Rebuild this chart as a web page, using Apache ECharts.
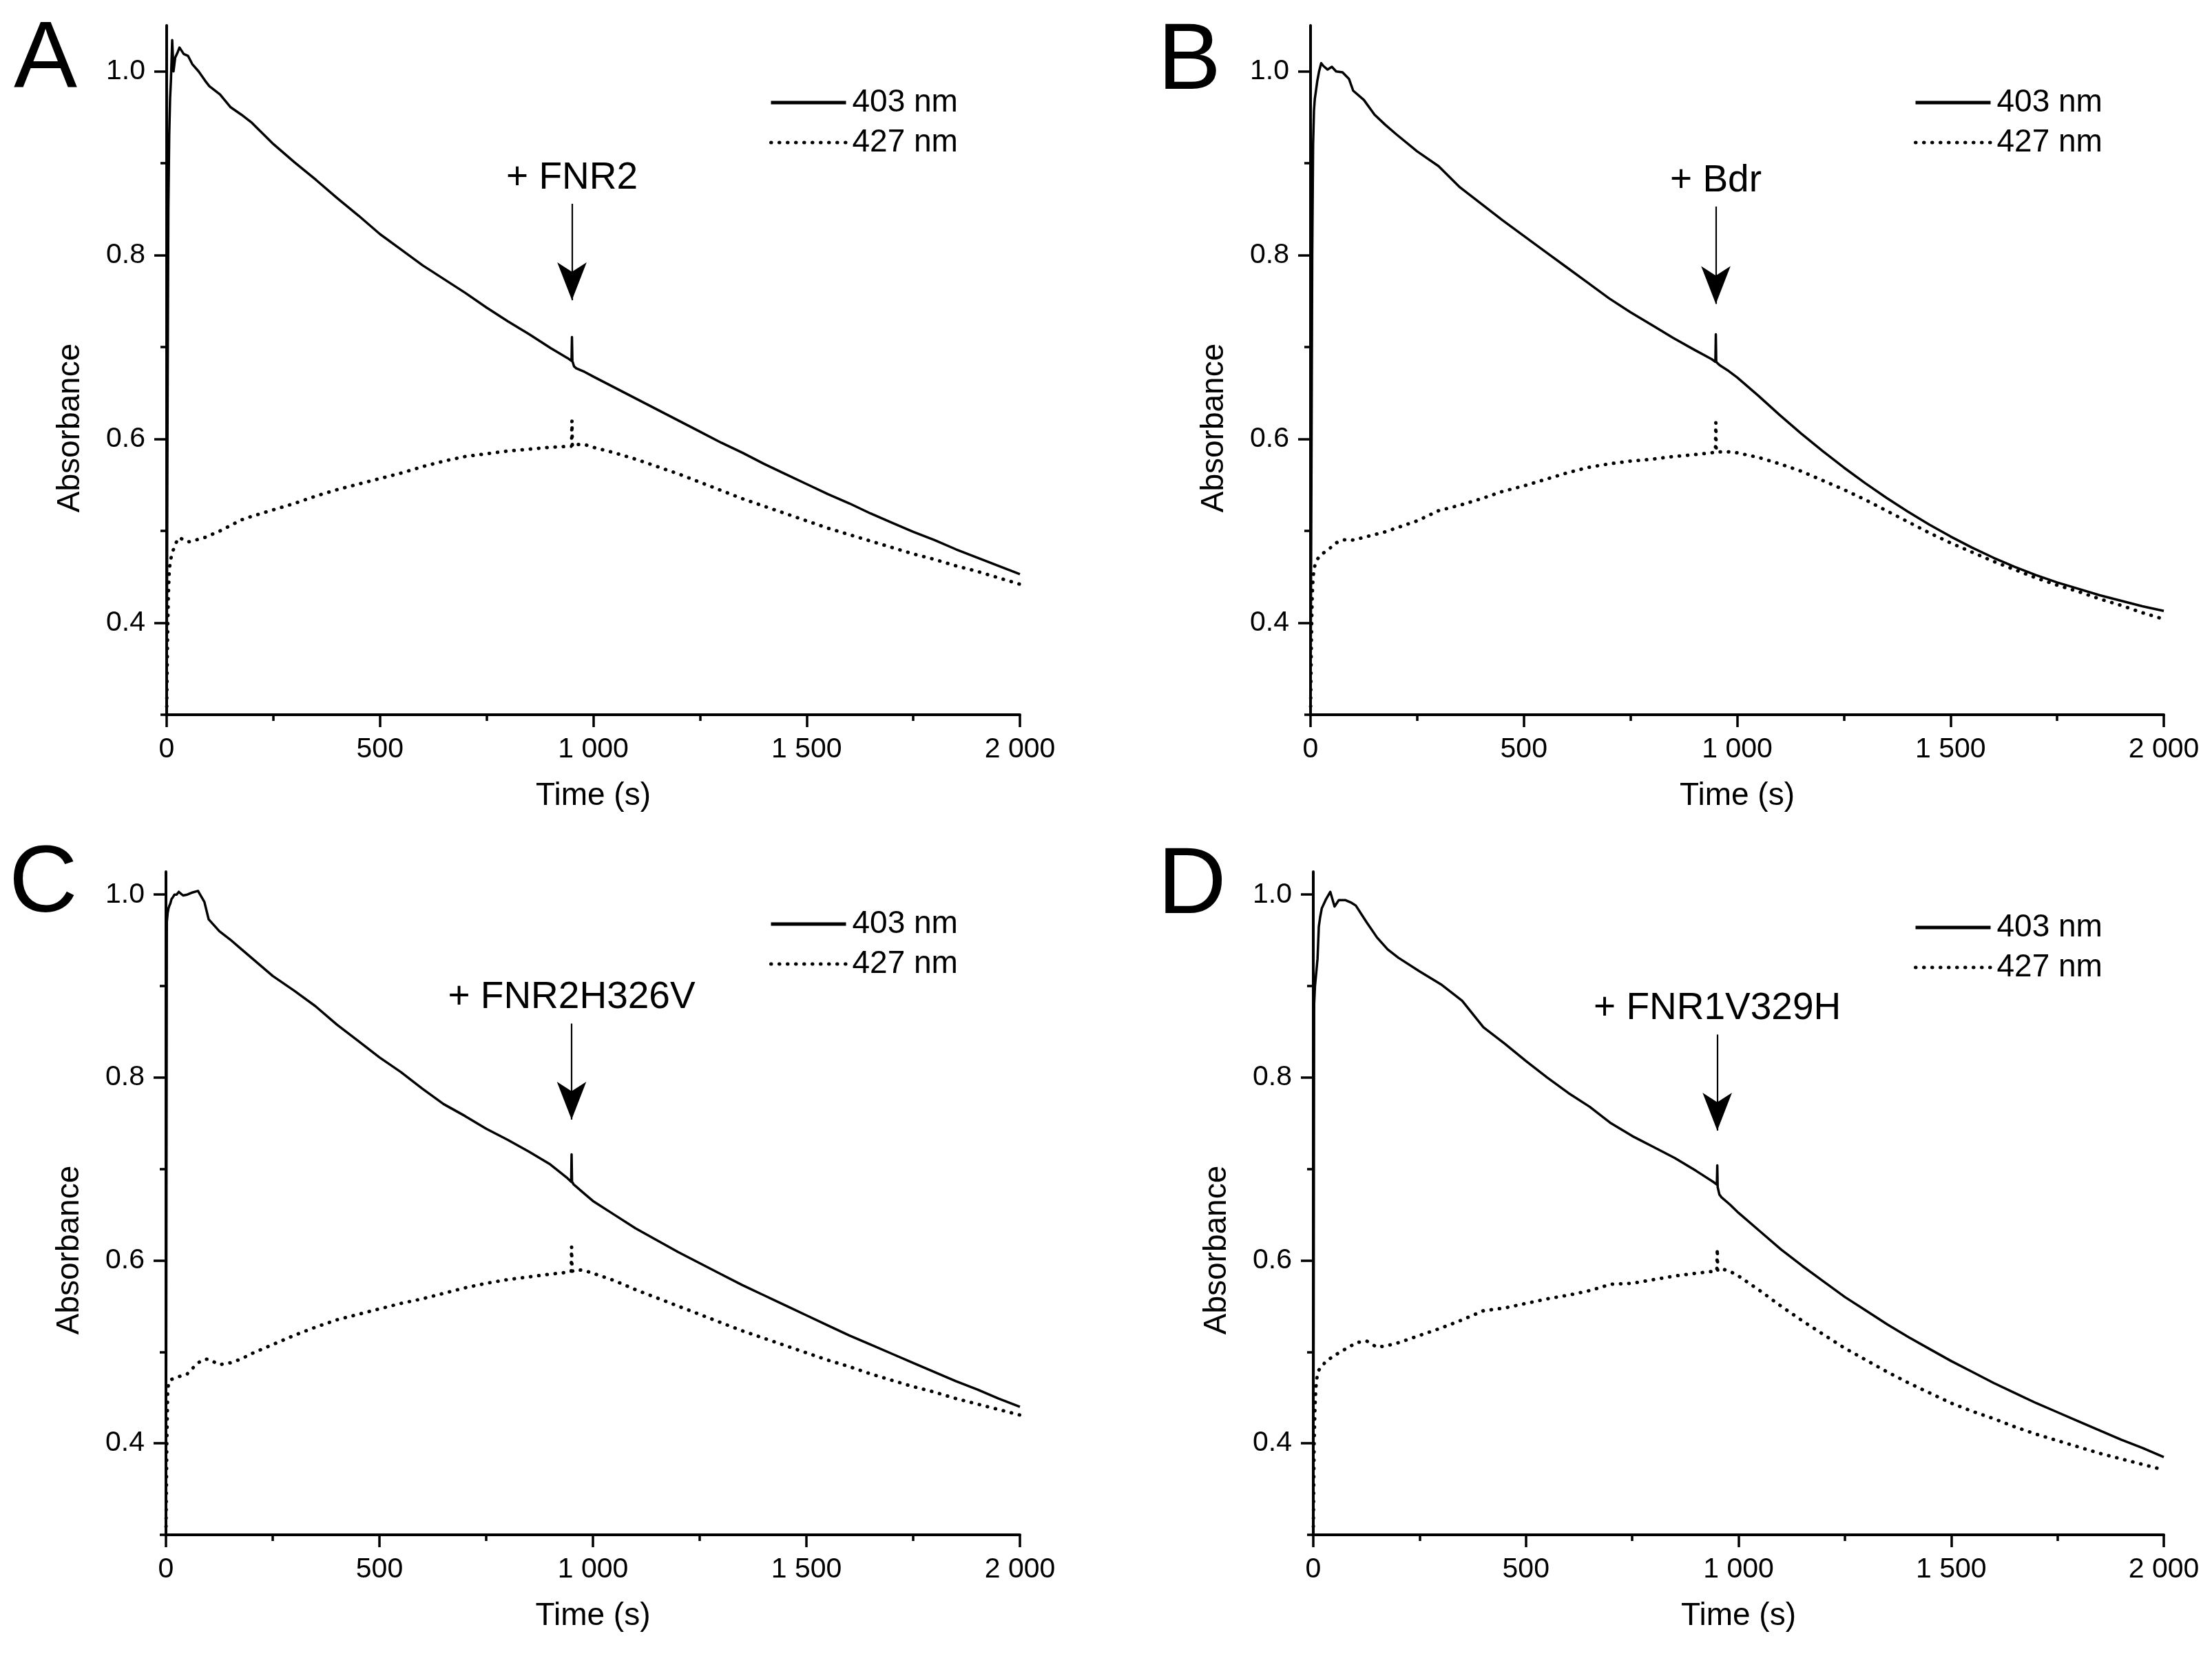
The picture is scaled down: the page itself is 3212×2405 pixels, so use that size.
<!DOCTYPE html>
<html>
<head>
<meta charset="utf-8">
<script src="https://cdn.jsdelivr.net/npm/echarts@6/dist/echarts.min.js"></script>
<style>
html,body{margin:0;padding:0;background:#fff;}
#chart{width:3212px;height:2405px;}
</style>
</head>
<body>
<div id="chart"></div>
<script>
// ---------- data ----------
const time = [0, 2, 4, 6, 8, 10, 13, 16, 20, 25, 30, 40, 50, 60, 75, 90, 100, 125, 150, 175, 200,
  250, 300, 350, 400, 450, 500, 550, 600, 650, 700, 750, 800, 850, 900, 940, 949, 950, 951, 955, 960, 980,
  1000, 1050, 1100, 1150, 1200, 1250, 1300, 1350, 1400, 1450, 1500, 1550, 1600, 1650, 1700, 1750, 1800,
  1850, 1900, 1950, 2000];

const a403 = [0.30, 0.62, 0.85, 0.93, 0.97, 0.99, 1.034, 1.00, 1.015, 1.02, 1.026, 1.019, 1.017, 1.008, 1.000, 0.990, 0.984, 0.975, 0.961, 0.953, 0.944,
  0.921, 0.901, 0.882, 0.862, 0.843, 0.823, 0.806, 0.789, 0.774, 0.759, 0.743, 0.728, 0.714, 0.699, 0.688, 0.685, 0.711, 0.685, 0.679, 0.677, 0.673,
  0.668, 0.656, 0.644, 0.632, 0.620, 0.608, 0.596, 0.585, 0.573, 0.562, 0.551, 0.540, 0.530, 0.519, 0.509, 0.499, 0.490,
  0.480, 0.471, 0.462, 0.453];
const a427 = [0.30, 0.38, 0.43, 0.455, 0.465, 0.47, 0.476, 0.48, 0.485, 0.49, 0.493, 0.49, 0.488, 0.489, 0.491, 0.493, 0.495, 0.500, 0.506, 0.512, 0.516,
  0.523, 0.530, 0.538, 0.545, 0.551, 0.557, 0.563, 0.570, 0.576, 0.581, 0.584, 0.587, 0.589, 0.591, 0.592, 0.592, 0.620, 0.592, 0.593, 0.594, 0.594,
  0.591, 0.585, 0.578, 0.570, 0.562, 0.553, 0.544, 0.535, 0.527, 0.519, 0.511, 0.503, 0.496, 0.489, 0.482, 0.475, 0.469,
  0.462, 0.456, 0.449, 0.442];

const b403 = [0.30, 0.55, 0.80, 0.92, 0.957, 0.97, 0.98, 0.99, 1.0, 1.009, 1.006, 1.002, 1.005, 1.0, 0.999, 0.992, 0.979, 0.969, 0.953, 0.942, 0.932,
  0.913, 0.897, 0.874, 0.856, 0.838, 0.821, 0.804, 0.787, 0.770, 0.753, 0.738, 0.724, 0.710, 0.697, 0.687, 0.684, 0.714, 0.684, 0.682, 0.680, 0.674,
  0.667, 0.647, 0.626, 0.606, 0.587, 0.569, 0.552, 0.536, 0.521, 0.507, 0.494, 0.482, 0.471, 0.461, 0.452, 0.444, 0.437,
  0.430, 0.424, 0.418, 0.413];
const b427 = [0.30, 0.38, 0.43, 0.45, 0.457, 0.462, 0.466, 0.469, 0.472, 0.474, 0.476, 0.479, 0.483, 0.487, 0.490, 0.491, 0.490, 0.493, 0.496, 0.499, 0.503,
  0.511, 0.522, 0.528, 0.535, 0.543, 0.549, 0.556, 0.563, 0.569, 0.573, 0.576, 0.578, 0.581, 0.583, 0.585, 0.586, 0.618, 0.586, 0.586, 0.586, 0.586,
  0.585, 0.580, 0.573, 0.565, 0.555, 0.545, 0.534, 0.522, 0.510, 0.498, 0.487, 0.477, 0.467, 0.458, 0.449, 0.441, 0.434,
  0.426, 0.419, 0.411, 0.404];

const c403 = [0.30, 0.97, 0.98, 0.985, 0.988, 0.99, 0.995, 0.997, 1.0, 1.0, 1.003, 0.999, 1.0, 1.002, 1.004, 0.992, 0.973, 0.960, 0.951, 0.941, 0.931,
  0.911, 0.895, 0.878, 0.858, 0.840, 0.822, 0.806, 0.788, 0.771, 0.758, 0.744, 0.732, 0.719, 0.705, 0.690, 0.686, 0.716, 0.686, 0.683, 0.681, 0.673,
  0.665, 0.650, 0.635, 0.622, 0.609, 0.597, 0.585, 0.573, 0.562, 0.551, 0.540, 0.529, 0.518, 0.508, 0.498, 0.488, 0.478,
  0.468, 0.459, 0.449, 0.440];
const c427 = [0.30, 0.40, 0.455, 0.466, 0.468, 0.469, 0.470, 0.471, 0.471, 0.472, 0.473, 0.474, 0.476, 0.481, 0.488, 0.492, 0.492, 0.486, 0.488, 0.492, 0.498,
  0.508, 0.518, 0.527, 0.535, 0.541, 0.547, 0.553, 0.558, 0.564, 0.570, 0.575, 0.579, 0.582, 0.585, 0.587, 0.588, 0.615, 0.588, 0.589, 0.590, 0.589,
  0.586, 0.578, 0.568, 0.559, 0.550, 0.541, 0.532, 0.523, 0.515, 0.507, 0.499, 0.491, 0.484, 0.476, 0.469, 0.462, 0.456,
  0.449, 0.443, 0.437, 0.431];

const d403 = [0.30, 0.88, 0.90, 0.91, 0.92, 0.93, 0.965, 0.975, 0.985, 0.99, 0.995, 1.003, 0.987, 0.994, 0.994, 0.991, 0.988, 0.970, 0.953, 0.940, 0.931,
  0.916, 0.902, 0.884, 0.855, 0.837, 0.818, 0.800, 0.783, 0.768, 0.750, 0.736, 0.724, 0.712, 0.698, 0.686, 0.683, 0.704, 0.680, 0.672, 0.669, 0.661,
  0.652, 0.632, 0.612, 0.594, 0.577, 0.560, 0.545, 0.530, 0.516, 0.503, 0.490, 0.478, 0.466, 0.455, 0.444, 0.434, 0.424,
  0.414, 0.404, 0.395, 0.385];
const d427 = [0.30, 0.40, 0.44, 0.46, 0.47, 0.475, 0.48, 0.482, 0.485, 0.487, 0.49, 0.493, 0.496, 0.499, 0.503, 0.507, 0.510, 0.512, 0.505, 0.507, 0.510,
  0.518, 0.526, 0.535, 0.545, 0.548, 0.553, 0.558, 0.562, 0.567, 0.574, 0.575, 0.579, 0.583, 0.586, 0.588, 0.589, 0.613, 0.589, 0.590, 0.591, 0.588,
  0.583, 0.567, 0.550, 0.534, 0.519, 0.504, 0.491, 0.478, 0.466, 0.455, 0.444, 0.435, 0.427, 0.418, 0.410, 0.403, 0.396,
  0.389, 0.383, 0.377, 0.371];

const panelLetters = ['A', 'B', 'C', 'D'];
const additionLabels = ['+ FNR2', '+ Bdr', '+ FNR2H326V', '+ FNR1V329H'];
const additionTime = 950;
const arrowStart = [0.856, 0.853, 0.859, 0.847];
const arrowTip = [0.751, 0.747, 0.754, 0.742];
const yMax = [1.05, 1.05, 1.025, 1.025];
const yMin = 0.3;
const xMajorTicks = [0, 500, 1000, 1500, 2000];
const xMinorTicks = [250, 750, 1250, 1750];
const yMajorTicks = [0.4, 0.6, 0.8, 1.0];
const yMinorTicks = [0.3, 0.5, 0.7, 0.9];
const legendNames = ['403 nm', '427 nm'];
const xTitle = 'Time (s)';
const yTitle = 'Absorbance';

// ---------- layout / styling ----------
const FONT = '"Liberation Sans", Arial, Helvetica, sans-serif';
const BLACK = '#000';
const series403 = [a403, b403, c403, d403];
const series427 = [a427, b427, c427, d427];

const grids = [
  {left: 242, top: 37, width: 1239, height: 1001},
  {left: 1903, top: 37, width: 1239, height: 1001},
  {left: 241, top: 1266, width: 1240, height: 963},
  {left: 1907, top: 1266, width: 1235, height: 963}
];
const titlePos = [
  {left: 20, top: 20}, {left: 1681, top: 22},
  {left: 13, top: 1217}, {left: 1681, top: 1219}
];
const legendPos = [
  {left: 1112, top: 121}, {left: 2774, top: 121},
  {left: 1112, top: 1314}, {left: 2774, top: 1319}
];
const yTitleShift = [168, 168, 136, 136];

function fmtThousands(v) {
  return String(Math.round(v)).replace(/\B(?=(\d{3})+(?!\d))/g, ' ');
}
const axisLineStyle = {color: BLACK, width: 4};
const tickLineStyle = {color: BLACK, width: 3.5};

const xAxes = [], yAxes = [], series = [], titles = [], legends = [];

for (let i = 0; i < 4; i++) {
  xAxes.push({
    type: 'value', gridIndex: i, min: 0, max: 2000, position: 'bottom',
    axisLine: {show: true, onZero: false, lineStyle: axisLineStyle},
    axisTick: {show: true, length: 18, customValues: xMajorTicks, lineStyle: tickLineStyle},
    axisLabel: {show: true, customValues: xMajorTicks, formatter: fmtThousands, margin: 30,
      fontSize: 41, color: BLACK, fontFamily: FONT},
    splitLine: {show: false},
    name: xTitle, nameLocation: 'middle', nameGap: 95, nameMoveOverlap: false,
    nameTextStyle: {fontSize: 46, color: BLACK, fontFamily: FONT}
  });
  xAxes.push({
    type: 'value', gridIndex: i, min: 0, max: 2000, position: 'bottom',
    axisLine: {show: false, onZero: false},
    axisTick: {show: true, length: 9, customValues: xMinorTicks, lineStyle: tickLineStyle},
    axisLabel: {show: false}, splitLine: {show: false}
  });
  yAxes.push({
    type: 'value', gridIndex: i, min: yMin, max: yMax[i], position: 'left',
    axisLine: {show: true, onZero: false, lineStyle: axisLineStyle},
    axisTick: {show: true, length: 18, customValues: yMajorTicks, lineStyle: tickLineStyle},
    axisLabel: {show: true, customValues: yMajorTicks, formatter: v => v.toFixed(1), margin: 31,
      fontSize: 41, color: BLACK, fontFamily: FONT},
    splitLine: {show: false},
    name: yTitle, nameLocation: 'middle', nameRotate: 90, nameGap: 117, nameMoveOverlap: false,
    nameTextStyle: {fontSize: 46, color: BLACK, fontFamily: FONT, padding: [0, yTitleShift[i], 0, 0]}
  });
  yAxes.push({
    type: 'value', gridIndex: i, min: yMin, max: yMax[i], position: 'left',
    axisLine: {show: false, onZero: false},
    axisTick: {show: true, length: 9, customValues: yMinorTicks, lineStyle: tickLineStyle},
    axisLabel: {show: false}, splitLine: {show: false}
  });

  const pts403 = time.map((t, k) => [t, series403[i][k]]);
  const pts427 = time.map((t, k) => [t, series427[i][k]]);

  series.push({
    name: legendNames[0], type: 'line', xAxisIndex: i * 2, yAxisIndex: i * 2,
    data: pts403, showSymbol: false, symbol: 'none', smooth: false, z: 3,
    lineStyle: {color: BLACK, width: 3.5, join: 'round'},
    itemStyle: {color: BLACK},
    emphasis: {disabled: true},
    markLine: {
      silent: true, animation: false,
      symbol: ['none', 'arrow'], symbolSize: [32, 55],
      lineStyle: {color: BLACK, width: 2.2, type: 'solid'},
      emphasis: {disabled: true},
      label: {show: true, position: 'start', formatter: additionLabels[i], distance: 10,
        fontSize: 55, color: BLACK, fontFamily: FONT},
      data: [[{coord: [additionTime, arrowStart[i]]}, {coord: [additionTime, arrowTip[i]]}]]
    }
  });
  series.push({
    name: legendNames[1], type: 'line', xAxisIndex: i * 2, yAxisIndex: i * 2,
    data: pts427, showSymbol: false, symbol: 'none', smooth: false, z: 2,
    lineStyle: {color: BLACK, width: 5, type: [0.5, 11.5], cap: 'round'},
    itemStyle: {color: BLACK},
    emphasis: {disabled: true}
  });

  titles.push({
    text: panelLetters[i], left: titlePos[i].left, top: titlePos[i].top, padding: 0,
    textStyle: {fontSize: 138, fontWeight: 'normal', color: BLACK, fontFamily: FONT}
  });
  legends.push({
    left: legendPos[i].left, top: legendPos[i].top, orient: 'vertical',
    itemWidth: 109, itemHeight: 30, itemGap: 12, selectedMode: false,
    data: legendNames,
    lineStyle: {width: 5},
    itemStyle: {color: 'rgba(0,0,0,0)', borderWidth: 0, opacity: 0},
    textStyle: {fontSize: 46, color: BLACK, fontFamily: FONT, padding: [0, 0, 0, 4]}
  });
}

const chart = echarts.init(document.getElementById('chart'), null, {renderer: 'canvas'});
chart.setOption({
  backgroundColor: '#fff',
  animation: false,
  textStyle: {fontFamily: FONT, color: BLACK},
  title: titles,
  legend: legends,
  grid: grids.map(g => Object.assign({containLabel: false, outerBoundsMode: 'none'}, g)),
  xAxis: xAxes,
  yAxis: yAxes,
  series: series
});
</script>
</body>
</html>
